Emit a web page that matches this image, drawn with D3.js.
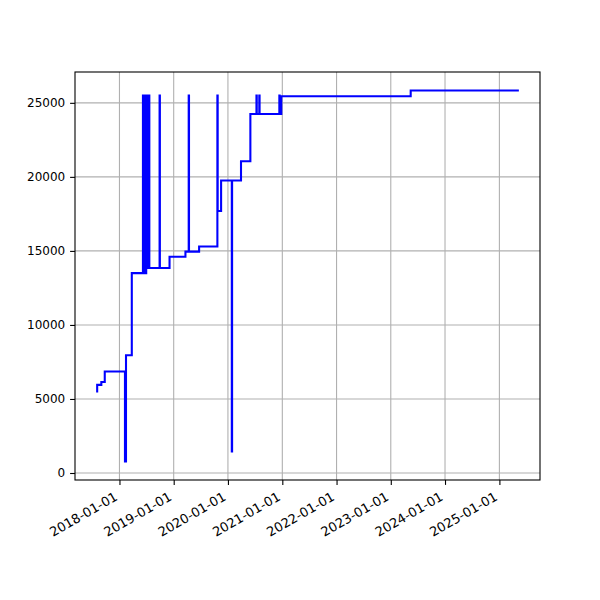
<!DOCTYPE html>
<html><head><meta charset="utf-8">
<script src="https://cdn.jsdelivr.net/npm/d3@7"></script>
<style>body{margin:0;background:#fff}svg{display:block}text{font-family:"DejaVu Sans",sans-serif;fill:#000}</style>
</head><body><svg id="c" width="600" height="600"></svg>
<script>
const dates = ["2017-07-28","2017-08-04","2017-09-01","2017-09-24","2018-02-07","2018-02-14","2018-03-25",
"2018-06-08","2018-06-10","2018-06-13","2018-06-15","2018-06-18","2018-06-21","2018-06-24","2018-06-27",
"2018-06-30","2018-07-03","2018-07-06","2018-07-09","2018-07-12","2018-07-15","2018-07-18","2018-07-21",
"2018-09-28","2018-09-30",
"2018-12-04","2019-03-21","2019-04-12","2019-04-14","2019-06-21","2019-10-22","2019-10-24","2019-11-16",
"2020-01-27","2020-01-29","2020-03-29","2020-05-31","2020-07-11","2020-07-13","2020-07-30","2020-08-01",
"2020-12-12","2020-12-14","2020-12-25","2023-05-15","2025-05-12"];
const values = [5500,5950,6150,6850,780,7950,13500,
25500,13500,25500,13500,25500,13850,25500,13500,
25500,13850,25500,13850,25500,13850,25500,13850,
25500,13850,
14600,14950,25500,14950,15300,25500,17700,19750,
1450,19750,21050,24250,25500,24250,25500,24250,
25500,24250,25450,25830,25830];
const xTickLabels = ["2018-01-01","2019-01-01","2020-01-01","2021-01-01","2022-01-01","2023-01-01","2024-01-01","2025-01-01"];
const yTicks = [0,5000,10000,15000,20000,25000];

const parse = d3.timeParse("%Y-%m-%d");
const data = dates.map((d,i)=>({t:parse(d), v:values[i]}));
const L=75,R=540,T=72,B=480;
const xe = d3.extent(data,d=>d.t), xr = xe[1]-xe[0];
const ye = d3.extent(data,d=>d.v), yr = ye[1]-ye[0];
const x = d3.scaleTime().domain([new Date(+xe[0]-0.05*xr), new Date(+xe[1]+0.05*xr)]).range([L,R]);
const y = d3.scaleLinear().domain([ye[0]-0.05*yr, ye[1]+0.05*yr]).range([B,T]);
const svg = d3.select("#c");
const xt = xTickLabels.map(parse);
const fmt = d3.timeFormat("%Y-%m-%d");
// grid
svg.append("g").selectAll("line").data(xt).join("line")
  .attr("x1",d=>x(d)).attr("x2",d=>x(d)).attr("y1",T).attr("y2",B)
  .attr("stroke","#b0b0b0").attr("stroke-width",1.1);
svg.append("g").selectAll("line").data(yTicks).join("line")
  .attr("x1",L).attr("x2",R).attr("y1",d=>y(d)).attr("y2",d=>y(d))
  .attr("stroke","#b0b0b0").attr("stroke-width",1.1);
// line
const line = d3.line().x(d=>x(d.t)).y(d=>y(d.v)).curve(d3.curveStepAfter);
svg.append("path").datum(data).attr("d",line).attr("fill","none")
  .attr("stroke","#0000ff").attr("stroke-width",2.08).attr("stroke-linejoin","miter");
// axes
const xa = svg.append("g").attr("transform",`translate(0,${B})`)
  .call(d3.axisBottom(x).tickValues(xt).tickFormat(fmt).tickSize(4.9).tickPadding(4.9));
xa.select(".domain").remove();
xa.selectAll("line").attr("stroke","#000").attr("stroke-width",1.1);
xa.selectAll("text").attr("font-size",13).attr("text-anchor","end")
  .attr("font-family","DejaVu Sans").attr("fill","#000")
  .attr("y",0).attr("dy",0)
  .attr("transform",function(){return "translate(-1.5,"+(9.8+9.5)+") rotate(-30)";});
const ya = svg.append("g").attr("transform",`translate(${L},0)`)
  .call(d3.axisLeft(y).tickValues(yTicks).tickFormat(d3.format("d")).tickSize(4.9).tickPadding(4.9));
ya.select(".domain").remove();
ya.selectAll("line").attr("stroke","#000").attr("stroke-width",1.1);
ya.selectAll("text").attr("font-size",12).attr("font-family","DejaVu Sans").attr("fill","#000");
svg.append("rect").attr("x",L).attr("y",T).attr("width",R-L).attr("height",B-T)
  .attr("fill","none").attr("stroke","#000").attr("stroke-width",1.1);
</script></body></html>
